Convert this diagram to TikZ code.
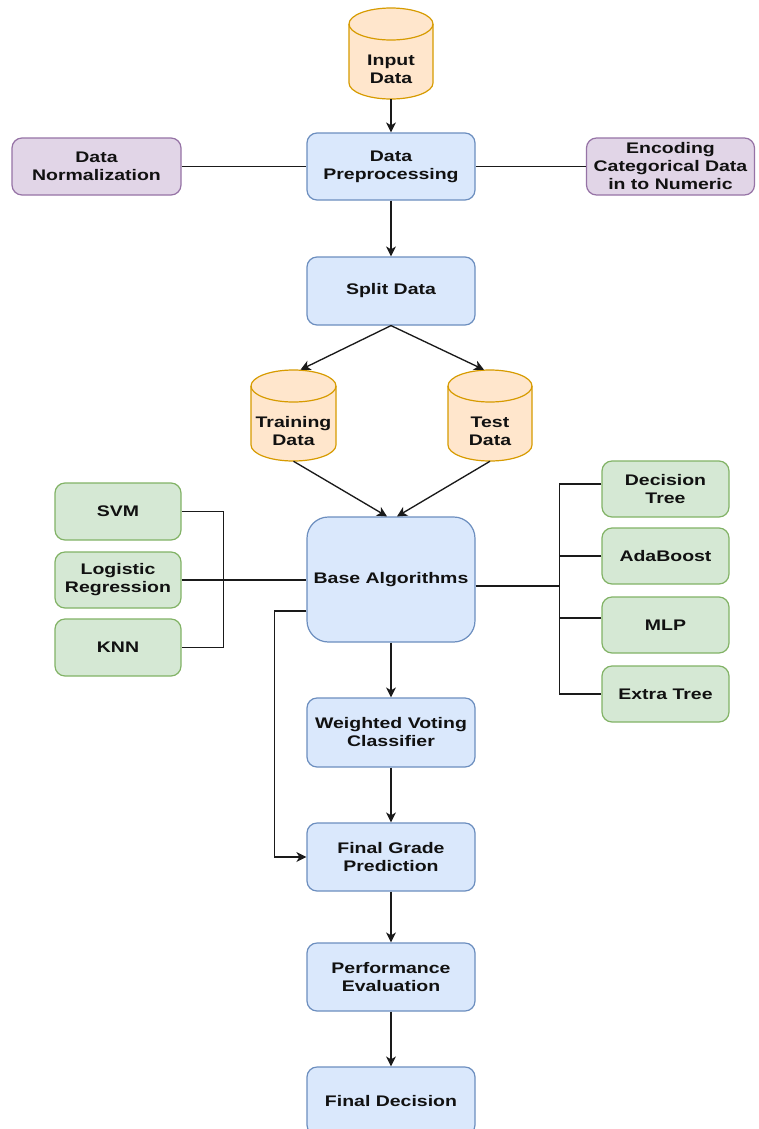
\documentclass[tikz,border=0pt]{standalone}
\usepackage{fontspec}
\setmainfont[FakeStretch=1.27]{Liberation Sans}
\usetikzlibrary{arrows.meta,calc}
\definecolor{blueF}{HTML}{DAE8FC}\definecolor{blueD}{HTML}{6C8EBF}
\definecolor{greenF}{HTML}{D5E8D4}\definecolor{greenD}{HTML}{82B366}
\definecolor{purF}{HTML}{E1D5E7}\definecolor{purD}{HTML}{9673A6}
\definecolor{orF}{HTML}{FFE6CC}\definecolor{orD}{HTML}{D79B00}
\definecolor{txtC}{HTML}{111111}\definecolor{lineC}{HTML}{1A1A1A}
\tikzset{
  lbl/.style={align=center, inner sep=1pt, font=\fontsize{11.5}{13.5}\selectfont\bfseries, text=txtC},
  box/.style={lbl, draw, rounded corners=7.5pt, line width=0.9pt},
  wd/.style={minimum width=#1*0.75pt},
  ht/.style={minimum height=#1*0.75pt},
  bluebox/.style={box, fill=blueF, draw=blueD, wd=168, ht=67},
  greenbox/.style={box, fill=greenF, draw=greenD, wd=126, ht=56},
  purbox/.style={box, fill=purF, draw=purD, wd=168, ht=57},
  cylshape/.style={fill=orF, draw=orD, line width=0.9pt},
  conn/.style={line width=1pt, draw=lineC},
  arr/.style={conn, -{Stealth[length=7.5pt,width=7.5pt,inset=2.2pt]}},
}
\newcommand\dbcyl[6]{%
  \pgfmathsetmacro\cylL{#2}\pgfmathsetmacro\cylR{#3}%
  \pgfmathsetmacro\cylT{#4}\pgfmathsetmacro\cylB{#5}%
  \pgfmathsetmacro\cylX{(#2+#3)/2}\pgfmathsetmacro\cylKx{0.5523*(#3-#2)/2}%
  \pgfmathsetmacro\cylKy{0.5523*16}%
  \pgfmathsetmacro\cylTa{#4+16}\pgfmathsetmacro\cylBa{#5-16}\pgfmathsetmacro\cylTb{#4+32}%
  \path[cylshape] (\cylL,\cylTa) -- (\cylL,\cylBa)
    .. controls (\cylL,\cylBa+\cylKy) and (\cylX-\cylKx,\cylB) .. (\cylX,\cylB)
    .. controls (\cylX+\cylKx,\cylB) and (\cylR,\cylBa+\cylKy) .. (\cylR,\cylBa)
    -- (\cylR,\cylTa)
    .. controls (\cylR,\cylTa-\cylKy) and (\cylX+\cylKx,\cylT) .. (\cylX,\cylT)
    .. controls (\cylX-\cylKx,\cylT) and (\cylL,\cylTa-\cylKy) .. (\cylL,\cylTa) -- cycle;
  \draw[cylshape, fill=none] (\cylL,\cylTa)
    .. controls (\cylL,\cylTa+\cylKy) and (\cylX-\cylKx,\cylTb) .. (\cylX,\cylTb)
    .. controls (\cylX+\cylKx,\cylTb) and (\cylR,\cylTa+\cylKy) .. (\cylR,\cylTa);
  \node[name=#1, inner sep=0pt, minimum width={(#3-#2)*0.75pt}, minimum height={(#5-#4)*0.75pt}] at ({\cylX},{(#4+#5)/2}) {};
  \node[name=#1t, lbl] at ({\cylX},{(#4+32+#5)/2}) {#6};
}
\begin{document}
\begin{tikzpicture}[x=0.75pt, y=-0.75pt]
\useasboundingbox (0,0) rectangle (759,1129);
\clip (0,0) rectangle (759,1129);
\fill[white] (0,0) rectangle (759,1129);

% cylinders
\dbcyl{input}{349}{433}{8}{99}{Input\\Data}
\dbcyl{train}{251}{336}{370}{461}{Training\\Data}
\dbcyl{test}{448}{532}{370}{461}{Test\\Data}

% main column
\node[bluebox] (prep) at (391,166.5) {Data\\Preprocessing};
\node[bluebox, ht=68] (split) at (391,291) {Split Data};
\node[bluebox, ht=125, rounded corners=16pt] (base) at (391,579.5) {Base Algorithms};
\node[bluebox, ht=69] (wvc) at (391,732.5) {Weighted Voting\\Classifier};
\node[bluebox, ht=68] (fgp) at (391,857) {Final Grade\\Prediction};
\node[bluebox, ht=68] (perf) at (391,977) {Performance\\Evaluation};
\node[bluebox, ht=68] (fd) at (391,1101) {Final Decision};

% side boxes
\node[purbox, wd=169] (norm) at (96.5,166.5) {Data\\Normalization};
\node[purbox] (enc) at (670.5,166.5) {Encoding\\Categorical Data\\in to Numeric};

\node[greenbox, ht=57] (svm) at (118,511.5) {SVM};
\node[greenbox] (logr) at (118,580) {Logistic\\Regression};
\node[greenbox, ht=57] (knn) at (118,647.5) {KNN};

\node[greenbox, wd=127] (dt) at (665.5,489) {Decision\\Tree};
\node[greenbox, wd=127] (ada) at (665.5,556) {AdaBoost};
\node[greenbox, wd=127] (mlp) at (665.5,625) {MLP};
\node[greenbox, wd=127] (et) at (665.5,694) {Extra Tree};

% connectors
\draw[arr] (input.south) -- (prep.north);
\draw[conn] (norm.east) -- (prep.west);
\draw[conn] (prep.east) -- (enc.west);
\draw[arr] (prep.south) -- (split.north);
\draw[arr] (split.south) -- ($(train.north)+(7,0)$);
\draw[arr] (split.south) -- ($(test.north)+(-6,0)$);
\draw[arr] (train.south) -- ($(base.north)+(-4,0)$);
\draw[arr] (test.south) -- ($(base.north)+(6,0)$);

\draw[conn] (svm.east) -- ++(42,0) |- (knn.east);
\draw[conn] (logr.east) -- (logr.east -| base.west);

\coordinate (rbus) at (560,586);
\draw[conn] ($(base.east)+(0,6.5)$) -- (rbus);
\draw[conn] ($(dt.west)+(0,-5)$) -- ($(dt.west)+(-42,-5)$) |- (et.west);
\draw[conn] (ada.west) -- ++(-42,0);
\draw[conn] ($(mlp.west)+(0,-7)$) -- ++(-42,0);

\draw[arr] (base.south) -- (wvc.north);
\draw[arr] ($(base.west)+(0,31.5)$) -- ++(-32,0) |- (fgp.west);
\draw[arr] (wvc.south) -- (fgp.north);
\draw[arr] (fgp.south) -- (perf.north);
\draw[arr] (perf.south) -- (fd.north);
\end{tikzpicture}
\end{document}
